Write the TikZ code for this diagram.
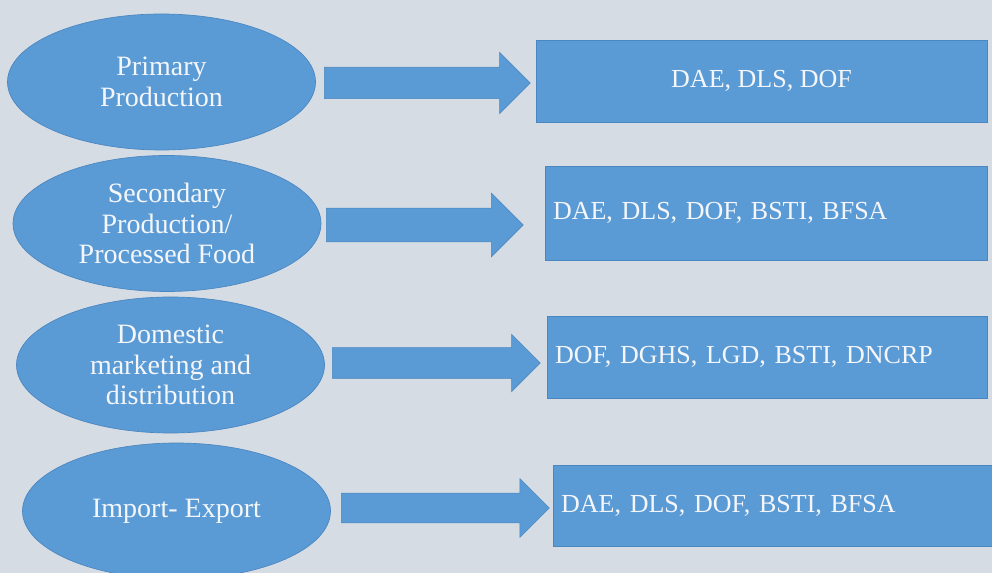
\documentclass[tikz,border=0pt]{standalone}
\usepackage{fontspec}
\setmainfont{Liberation Serif}
\usetikzlibrary{shapes.geometric,shapes.arrows}

\definecolor{bgGrey}{RGB}{214,220,228}
\definecolor{boxBlue}{RGB}{91,155,213}
\definecolor{edgeBlue}{RGB}{74,134,192}
\definecolor{txtWhite}{RGB}{244,246,250}

\tikzset{
  stage/.style={ellipse, fill=boxBlue, draw=edgeBlue, line width=0.5pt,
    minimum width=231pt, minimum height=102pt, inner sep=0pt,
    align=center, text=txtWhite, font=\fontsize{21}{23}\selectfont},
  agency/.style={rectangle, fill=boxBlue, draw=edgeBlue, line width=0.5pt,
    inner xsep=6pt, inner ysep=0pt, text=txtWhite,
    font=\fontsize{19.5}{23}\selectfont},
  blockarrow/.style={single arrow, fill=boxBlue, draw=edgeBlue, line width=0.4pt,
    anchor=tail, inner xsep=0pt, inner ysep=11.5pt, single arrow tip angle=90,
    single arrow head indent=0pt, single arrow head extend=11pt}
}

\begin{document}
\begin{tikzpicture}[x=0.75pt,y=0.75pt,yscale=-1,xscale=1]
\fill [bgGrey] (0,0) rectangle (992,573);
\useasboundingbox (0,0) rectangle (992,573);

% stages
\node [stage] (prim) at (161.5,82) {Primary\\Production};
\node [stage] (sec) at (167,223.5) {Secondary\\Production/\\Processed Food};
\node [stage] (dom) at (170.5,365) {Domestic\\marketing and\\distribution};
\node [stage] (impex) at (176.5,511) {Import- Export};

% agencies
\node [agency, minimum width=338pt, minimum height=61.5pt] (agPrim) at (761.5,81) {DAE, DLS, DOF};
\node [agency, text width=319.5pt, align=left, minimum height=70.5pt] (agSec) at (766,213) {DAE, DLS, DOF, BSTI, BFSA};
\node [agency, text width=318pt, align=left, minimum height=61.5pt] (agDom) at (767,357) {DOF, DGHS, LGD, BSTI, DNCRP};
\node [agency, text width=317pt, align=left, minimum height=61pt] (agImp) at (772.5,505.5) {DAE, DLS, DOF, BSTI, BFSA};

% block arrows
\node [blockarrow, minimum height=154.5pt, inner ysep=11.6pt, single arrow head extend=11.25pt] (arPrim) at (324,83) {};
\node [blockarrow, minimum height=147.75pt, inner ysep=12.4pt, single arrow head extend=11.25pt] (arSec) at (326,225) {};
\node [blockarrow, minimum height=156pt, inner ysep=11.25pt, single arrow head extend=10.1pt] (arDom) at (332,363) {};
\node [blockarrow, minimum height=156pt, inner ysep=10.9pt, single arrow head extend=10.9pt] (arImp) at (341,508) {};

\end{tikzpicture}
\end{document}
